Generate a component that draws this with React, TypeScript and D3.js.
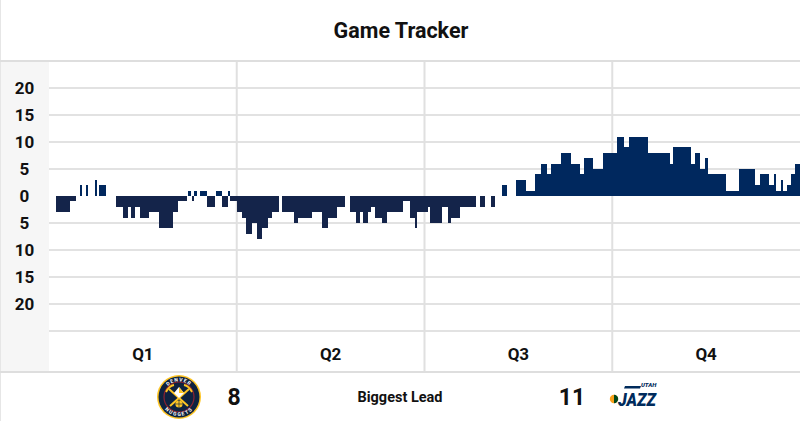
import * as d3 from "d3";

// lead over the game: Jazz score minus Nuggets score, from each start minute on
const periods = ["Q1", "Q2", "Q3", "Q4"];
const marginTicks = [20, 15, 10, 5, 0, -5, -10, -15, -20];
const leadTimes = [
  0, 0.47, 1.32, 1.71, 1.96, 2.09, 2.35, 2.47, 2.92, 3.09, 3.2, 3.62, 4.26, 4.73, 5.07, 5.22, 5.5, 5.8, 6.39,
  7.03, 7.94, 8.26, 8.8, 8.9, 9.06, 9.12, 9.29, 9.44, 9.65, 10.08, 10.61, 10.67, 11.04, 11.46, 11.57,
  12.0, 12.32, 12.59, 12.97, 13.28, 13.59, 14.0, 14.25, 14.72, 14.87, 15.66, 15.93, 16.83, 17.47, 17.81,
  18.39, 18.92, 19.24, 19.6, 19.88, 20.09, 20.37, 20.58, 20.84, 21.26, 21.58, 22.65, 23.07, 23.39, 23.5,
  24.24, 24.35, 25.1, 25.5, 25.71, 26.25, 27.31, 27.53, 27.85, 28.27, 28.49, 28.97, 29.27, 29.87, 30.51,
  31.04, 31.47, 31.83, 32.1, 32.74, 33.38, 33.92, 34.18, 34.77, 35.41,
  36.28, 36.75, 37.09, 38.3, 39.72, 39.86, 41.06, 41.26, 41.64, 41.93, 42.14, 43.27, 44.09, 45.14, 45.44,
  46.04, 46.31, 46.48, 46.77, 46.93, 47.19, 47.41, 47.69,
];
const leadMargins = [
  0, -3, -1, 0, 2, 0, 2, 0, 3, 0, 2, 0, -2, -4, -2, -4, -2, -4, -3,
  -6, -3, -1, 0, 1, 0, -1, 1, 0, 1, -2, 0, 1, -2, 1, -1,
  -3, -4, -7, -5, -8, -6, -4, -3, 0, -3, -5, -4, -3, -6, -4,
  -2, 0, -3, -5, -3, -5, -3, -2, -4, -5, -3, -1, -4, -6, -3,
  -2, -5, -2, -5, -4, -2, 0, -2, 0, -2, 0, 2, 0, 3, 1,
  4, 6, 4, 6, 8, 6, 4, 7, 5, 8,
  11, 9, 11, 8, 6, 9, 6, 8, 5, 7, 4, 1, 5, 2, 4,
  2, 4, 1, 3, 1, 2, 4, 6,
];
const nuggetsBiggestLead = "8";
const jazzBiggestLead = "11";

const W = 800;
const H = 421;
const plot = { left: 49, right: 800, top: 61, bottom: 331 };
const FONT = "Roboto, 'Noto Sans', sans-serif";

interface Pt {
  t: number;
  m: number;
}

function NuggetsLogo({ cx, cy }: { cx: number; cy: number }) {
  return (
    <g transform={`translate(${cx},${cy})`}>
      <circle r={22} fill="#FEC524" />
      <circle r={20.5} fill="#0E2240" />
      <circle r={15} fill="none" stroke="#8B2131" strokeWidth={1.2} />
      <path id="nugTop" d="M-17,0 A17,17 0 0 1 17,0" fill="none" />
      <path id="nugBot" d="M-17.5,0 A17.5,17.5 0 0 0 17.5,0" fill="none" />
      <text fontSize={5} fontWeight={700} fill="#fff" fontFamily={FONT} letterSpacing={1.3}>
        <textPath href="#nugTop" startOffset="50%" textAnchor="middle" dominantBaseline="middle">
          DENVER
        </textPath>
      </text>
      <text fontSize={5} fontWeight={700} fill="#fff" fontFamily={FONT} letterSpacing={1}>
        <textPath href="#nugBot" startOffset="50%" textAnchor="middle" dominantBaseline="middle">
          NUGGETS
        </textPath>
      </text>
      <line x1={-10} y1={-8} x2={9} y2={9} stroke="#FEC524" strokeWidth={2} />
      <line x1={10} y1={-8} x2={-9} y2={9} stroke="#FEC524" strokeWidth={2} />
      <path d="M-13,-5 Q-10,-11 -5,-12" fill="none" stroke="#FEC524" strokeWidth={1.8} />
      <path d="M13,-5 Q10,-11 5,-12" fill="none" stroke="#FEC524" strokeWidth={1.8} />
      <path d="M0,-10 L5,-4 L0,1 L-5,-4 Z" fill="#fff" />
      <path d="M0,-10 L5,-4 L0,-4 Z" fill="#FEC524" />
      <circle cy={7} r={3.6} fill="#FEC524" />
      <path d="M-3.6,7 H3.6 M0,3.4 V10.6" stroke="#0E2240" strokeWidth={0.6} />
    </g>
  );
}

function JazzLogo({ x0, y0 }: { x0: number; y0: number }) {
  return (
    <g transform={`translate(${x0},${y0})`}>
      <path d="M15,-11 L31,-11 L30,-8.5 L14,-8.5 Z" fill="#002B5C" />
      <text x={31} y={-10.5} fontSize={6} fontStyle="italic" fontWeight={900} fill="#002B5C" fontFamily={FONT}>
        UTAH
      </text>
      <circle cx={4} cy={2} r={4.2} fill="#F9A01B" />
      <path d="M4,-2.2 A4.2,4.2 0 0 1 4,6.2 Z" fill="#00471B" />
      <text
        x={8}
        y={9}
        fontSize={19}
        fontStyle="italic"
        fontWeight={900}
        fill="#002B5C"
        fontFamily={FONT}
        textLength={38}
        lengthAdjust="spacingAndGlyphs"
      >
        JAZZ
      </text>
    </g>
  );
}

export default function App() {
  const x = d3.scaleLinear().domain([0, 48]).range([plot.left, plot.right]);
  const y = d3.scaleLinear().domain([-25, 25]).range([plot.bottom, plot.top]);

  const pts: Pt[] = leadTimes.map((t, i) => ({ t, m: leadMargins[i] }));
  pts.push({ t: 48, m: leadMargins[leadMargins.length - 1] });

  const jazzArea = d3
    .area<Pt>()
    .x((d) => x(d.t))
    .y0(y(0))
    .y1((d) => y(Math.max(d.m, 0)))
    .curve(d3.curveStepAfter);
  const nuggetsArea = d3
    .area<Pt>()
    .x((d) => x(d.t))
    .y0(y(0))
    .y1((d) => y(Math.min(d.m, 0)))
    .curve(d3.curveStepAfter);

  const quarterEdges = [12, 24, 36];
  const gridTicks = marginTicks.filter((d) => d !== 0);
  const footerY = 397;

  return (
    <svg
      width={W}
      height={H}
      style={{ position: "absolute", left: 0, top: 0, background: "#fff" }}
      fontFamily={FONT}
    >
      <text x={401} y={38} textAnchor="middle" fontSize={21.5} fontWeight={700} fill="#111">
        Game Tracker
      </text>

      {/* left axis panel */}
      <rect x={0} y={plot.top} width={plot.left} height={372 - plot.top} fill="#f6f6f6" />
      <line x1={0.5} x2={0.5} y1={0} y2={H} stroke="#e6e6e6" strokeWidth={1} />

      {gridTicks.map((d) => (
        <line key={d} x1={plot.left} x2={plot.right} y1={y(d)} y2={y(d)} stroke="#e2e2e2" strokeWidth={2} />
      ))}
      <line x1={plot.left} x2={plot.right} y1={plot.bottom} y2={plot.bottom} stroke="#e2e2e2" strokeWidth={2} />

      {quarterEdges.map((q) => (
        <line key={q} x1={x(q)} x2={x(q)} y1={plot.top} y2={372} stroke="#e0e0e0" strokeWidth={2} />
      ))}

      <path d={nuggetsArea(pts) ?? ""} fill="#14244a" shapeRendering="crispEdges" />
      <path d={jazzArea(pts) ?? ""} fill="#00285e" shapeRendering="crispEdges" />

      <line x1={0} x2={W} y1={plot.top} y2={plot.top} stroke="#dedede" strokeWidth={2} />
      <line x1={0} x2={W} y1={372} y2={372} stroke="#dedede" strokeWidth={2} />

      {marginTicks.map((d) => (
        <text
          key={d}
          x={24.5}
          y={y(d)}
          dy="0.36em"
          textAnchor="middle"
          fontSize={17}
          fontWeight={700}
          fill="#111"
        >
          {Math.abs(d)}
        </text>
      ))}

      {periods.map((p, i) => (
        <text
          key={p}
          x={(x(i * 12) + x(i * 12 + 12)) / 2}
          y={354}
          dy="0.36em"
          textAnchor="middle"
          fontSize={17}
          fontWeight={700}
          fill="#111"
        >
          {p}
        </text>
      ))}

      <NuggetsLogo cx={179} cy={footerY} />
      <text x={234} y={footerY} dy="0.36em" textAnchor="middle" fontSize={23} fontWeight={700} fill="#111">
        {nuggetsBiggestLead}
      </text>
      <text x={400} y={footerY} dy="0.36em" textAnchor="middle" fontSize={14.5} fontWeight={700} fill="#111">
        Biggest Lead
      </text>
      <text x={572} y={footerY} dy="0.36em" textAnchor="middle" fontSize={23} fontWeight={700} fill="#111">
        {jazzBiggestLead}
      </text>
      <JazzLogo x0={610} y0={footerY} />
    </svg>
  );
}
